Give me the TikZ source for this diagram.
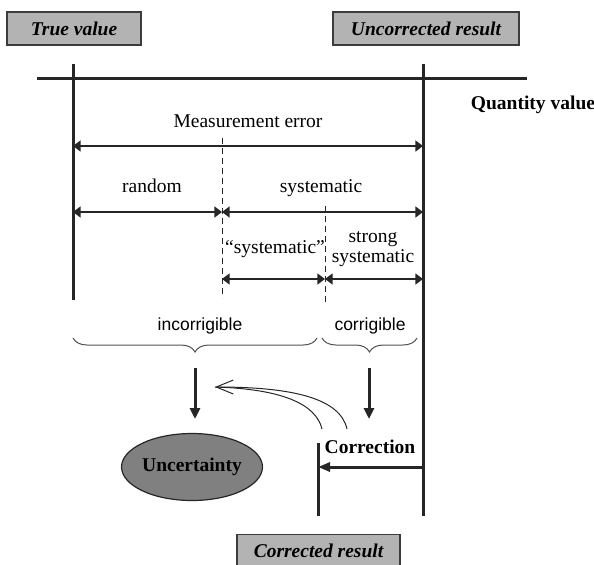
\documentclass[tikz,border=0pt]{standalone}
\usepackage{fontspec}
\setmainfont{Liberation Serif}
\setsansfont{Liberation Sans}
\usepackage{xcolor}
\definecolor{boxgray}{HTML}{B3B3B3}
\definecolor{ellgray}{HTML}{808080}
\definecolor{inkgray}{HTML}{262626}
\usepackage{tikz}
\usetikzlibrary{positioning,arrows.meta,decorations.pathreplacing,shapes.geometric}
\newcommand{\fsz}{\fontsize{9.75}{10}\selectfont}
\newcommand{\fszs}{\fontsize{8.75}{10}\selectfont}
\tikzset{
  valbox/.style ={rectangle, draw=inkgray!90, fill=boxgray, line width=0.6pt,
                  minimum height=16.5pt, inner sep=0pt, font=\fsz\bfseries\itshape},
  lbl/.style    ={inner sep=0pt, anchor=base, font=\fsz},
  lbls/.style   ={lbl, font=\fszs\sffamily},
  lblb/.style   ={lbl, font=\fsz\bfseries},
  axis/.style   ={draw=inkgray, line width=1.5pt},
  dim/.style    ={{Triangle[length=3.8pt,width=5.5pt]}-{Triangle[length=3.8pt,width=5.5pt]},
                  draw=inkgray, line width=0.75pt},
  sep/.style    ={draw=inkgray, line width=0.5pt, dash pattern=on 3pt off 2pt},
  brc/.style    ={draw=inkgray!80, line width=0.5pt,
                  decorate, decoration={brace, mirror, amplitude=7pt}},
  down/.style   ={-{Triangle[length=5.5pt,width=5pt]}, draw=inkgray, line width=1.5pt},
  back/.style   ={draw=inkgray, line width=0.5pt},
  uncert/.style ={ellipse, draw=inkgray, fill=ellgray, line width=0.6pt,
                  minimum width=63pt, minimum height=33.5pt, inner sep=0pt,
                  font=\fsz\bfseries},
}

\begin{document}
\begin{tikzpicture}[x=0.5pt, y=-0.5pt]
  \useasboundingbox (0,0) rectangle (594,564);
  \clip (0,0) rectangle (594,564);

  \node[valbox, minimum width=67pt] (truev)  at (74,28.5)   {True value};
  \node[valbox, minimum width=93pt] (uncorr) at (426,28.5)  {Uncorrected result};
  \node[valbox, minimum width=81.5pt] (corrres) at (318.5,551) {Corrected result};

  \coordinate (axl)   at (37,78);
  \coordinate (axr)   at (527,78);
  \coordinate (tvtop) at (73,64);
  \coordinate (tvbot) at (73,300);
  \coordinate (urtop) at (423,64);
  \coordinate (urbot) at (423,516);
  \coordinate (crtop) at (318,443);
  \coordinate (crbot) at (318,516);
  \draw[axis] (axl) -- (axr);
  \draw[axis] (tvtop) -- (tvbot);
  \draw[axis] (urtop) -- (urbot);
  \draw[axis] (crtop) -- (crbot);

  \node[lblb] (qval) at (533,109) {Quantity value};

  \node[lbl] (meas) at (248,127) {Measurement error};
  \coordinate (me1) at (73,146);
  \coordinate (me2) at (423,146);
  \draw[dim] (me1) -- (me2);

  \coordinate (rsa) at (222,138);
  \coordinate (rsb) at (222,298);
  \draw[sep] (rsa) -- (rsb);
  \node[lbl] (rand) at (152,192) {random};
  \node[lbl] (syst) at (321,192) {systematic};
  \coordinate (ra1) at (73,212);
  \coordinate (ra2) at (222,212);
  \coordinate (sy2) at (423,212);
  \draw[dim] (ra1) -- (ra2);
  \draw[dim] (ra2) -- (sy2);

  \coordinate (ssa) at (325,206);
  \coordinate (ssb) at (325,302);
  \draw[sep] (ssa) -- (ssb);
  \node[lbl] (qsyst) at (275,253) {``systematic''};
  \node[font=\fsz, align=center, inner sep=0pt] (strong) at (373,249) {strong\\[-0.2pt]systematic};
  \coordinate (qs1) at (222,279);
  \coordinate (qs2) at (325,279);
  \coordinate (st2) at (423,279);
  \draw[dim] (qs1) -- (qs2);
  \draw[dim] (qs2) -- (st2);

  \node[lbls] (incorr) at (200,330) {incorrigible};
  \node[lbls] (corrig) at (370,330) {corrigible};
  \coordinate (bi1) at (73,338);
  \coordinate (bi2) at (317,338);
  \coordinate (bc1) at (322,338);
  \coordinate (bc2) at (417,338);
  \draw[brc] (bi1) -- (bi2);
  \draw[brc] (bc1) -- (bc2);

  \coordinate (di1) at (195,368);
  \coordinate (di2) at (195,419);
  \coordinate (dc1) at (369,368);
  \coordinate (dc2) at (369,419);
  \draw[down] (di1) -- (di2);
  \draw[down] (dc1) -- (dc2);

  \node[uncert] (uncty) at (192,467) {Uncertainty};
  \node[lblb] (corrn) at (370,453) {Correction};
  \coordinate (ca1) at (423,467);
  \coordinate (ca2) at (318,467);
  \draw[-{Triangle[length=6pt,width=4.5pt]}, draw=inkgray, line width=1.5pt] (ca1) -- (ca2);

  \coordinate (tip) at (215,387);
  \coordinate (cb1) at (322,429);
  \coordinate (cb2) at (347,429);
  \draw[back] (cb1) .. controls (316,404) and (282,389) .. (tip);
  \draw[back, -{Straight Barb[length=8.5pt,width=7pt]}] (cb2) .. controls (340,398) and (292,387) .. (tip);
\end{tikzpicture}
\end{document}
